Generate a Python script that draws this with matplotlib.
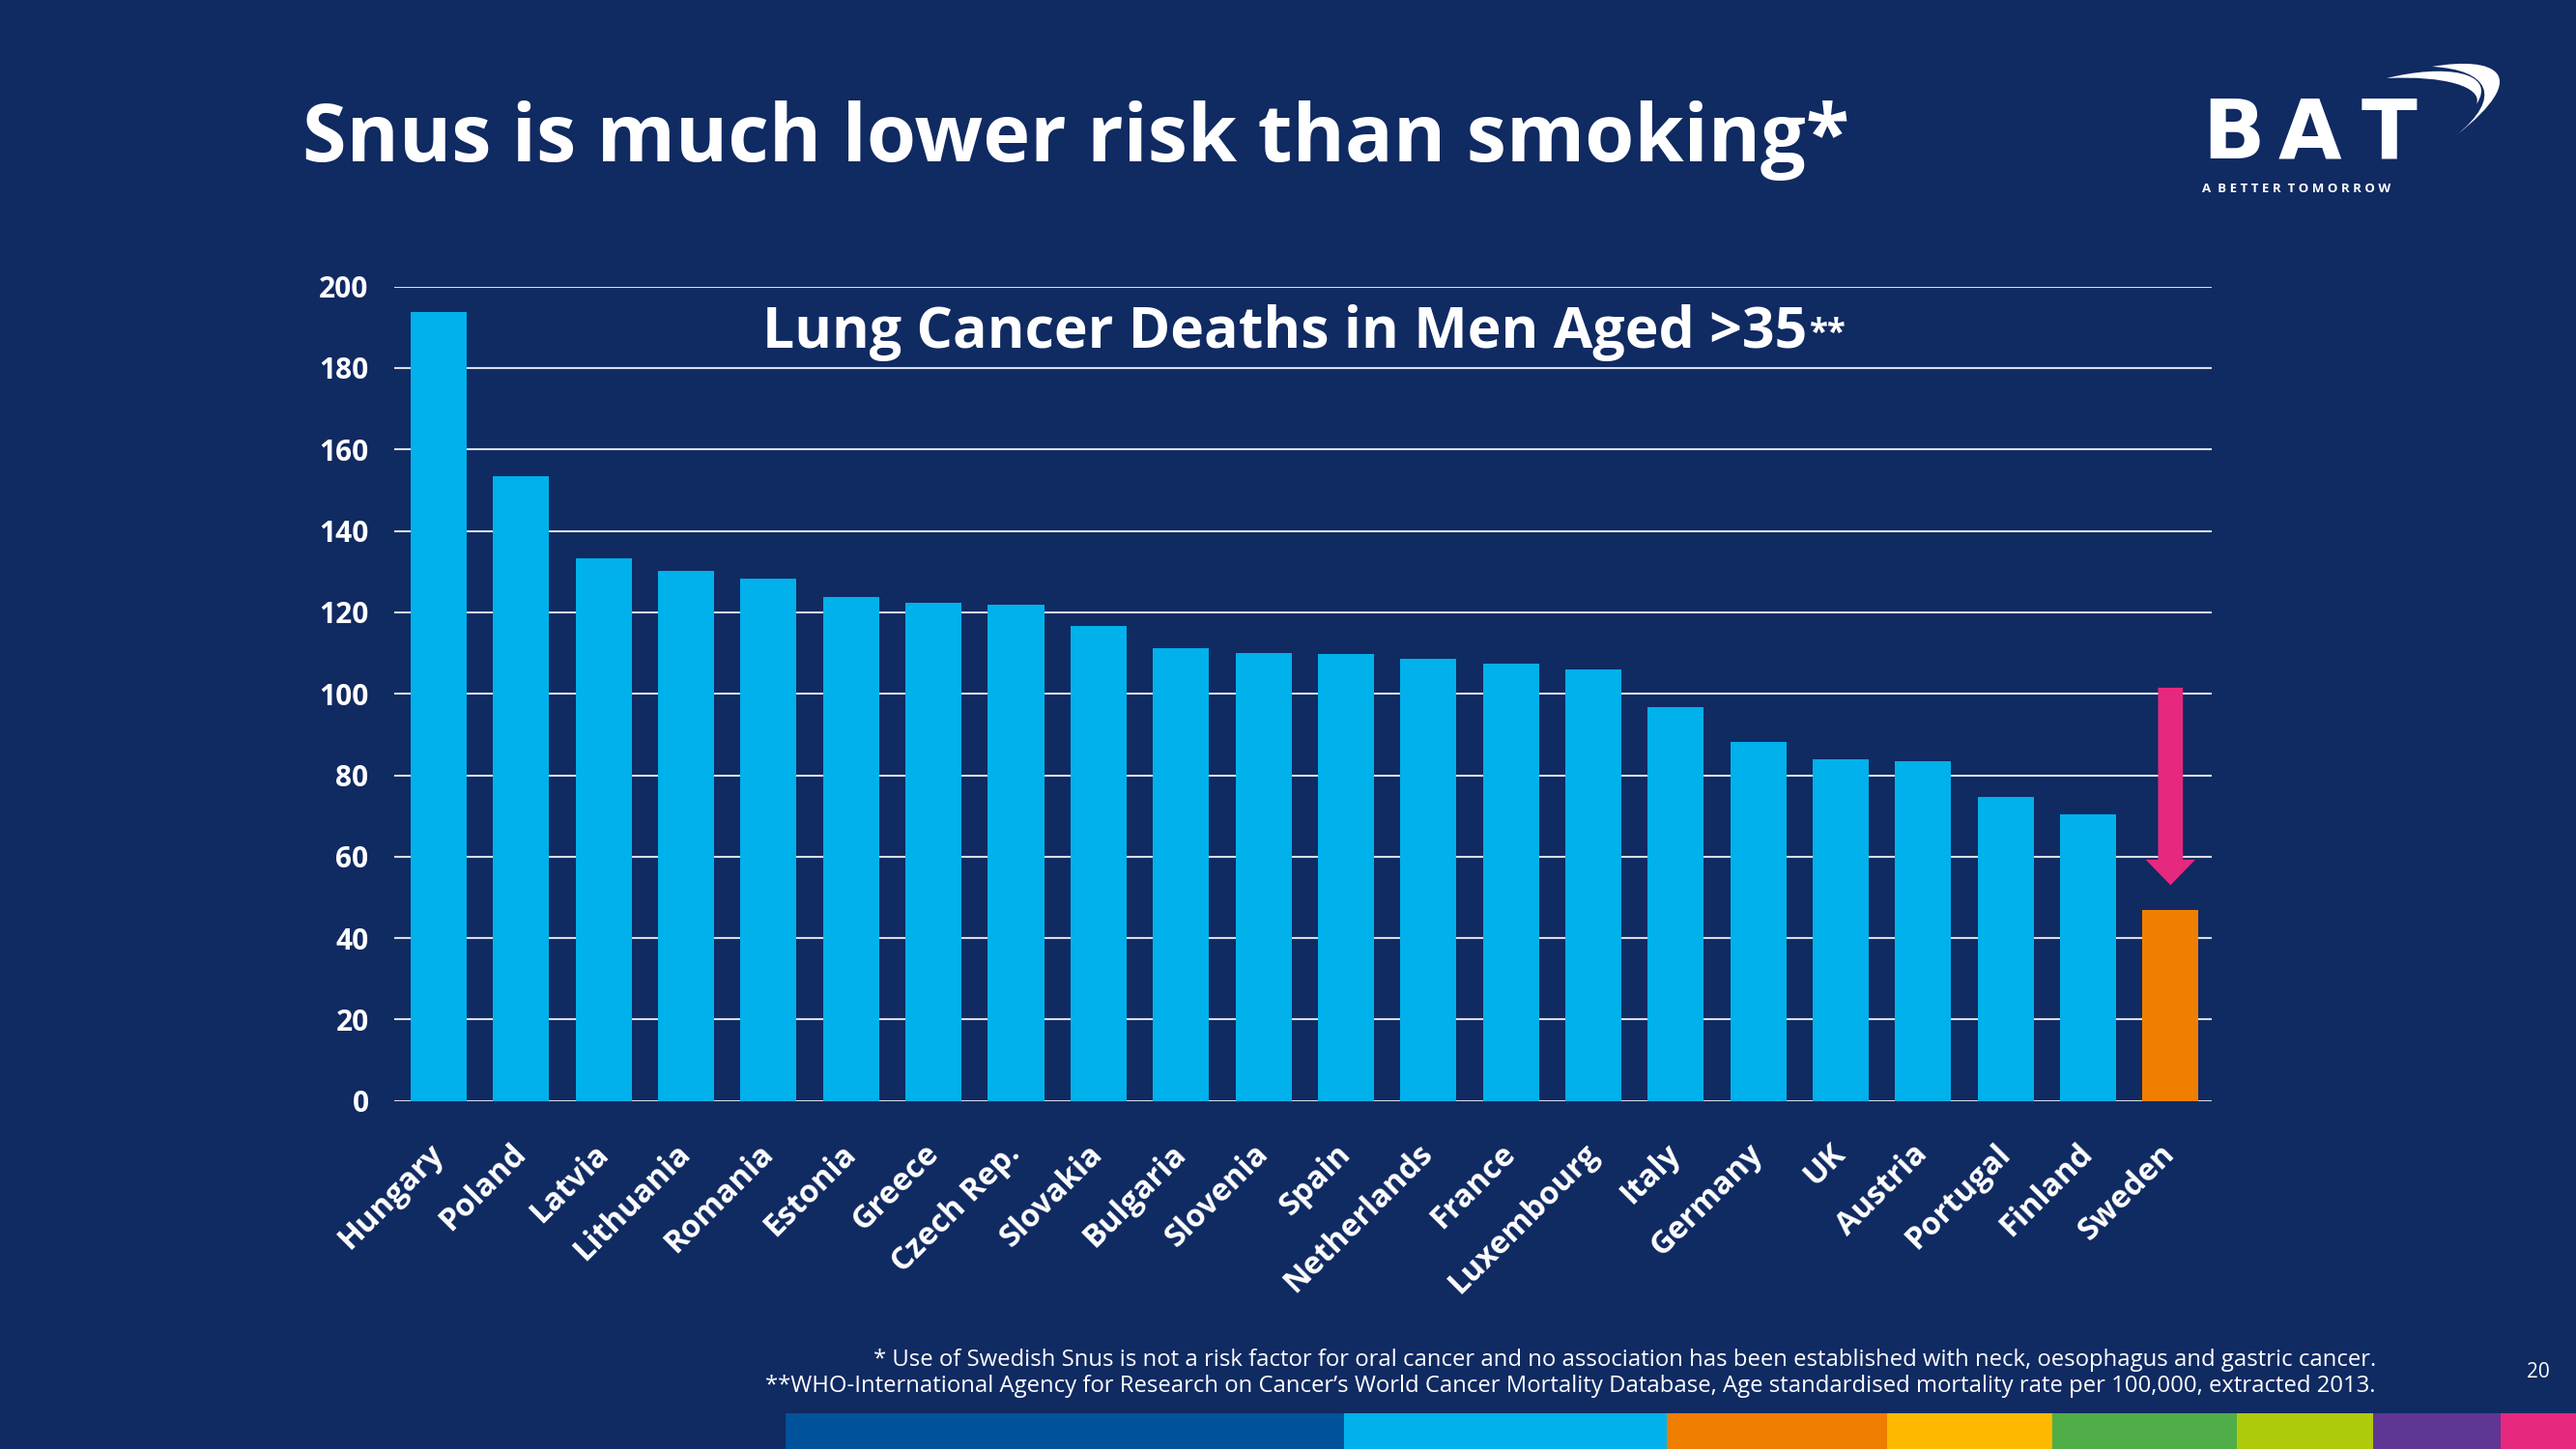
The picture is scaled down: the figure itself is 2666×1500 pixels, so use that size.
import matplotlib.pyplot as plt
from matplotlib.path import Path
from matplotlib.patches import PathPatch, Rectangle

countries = ["Hungary", "Poland", "Latvia", "Lithuania", "Romania", "Estonia",
             "Greece", "Czech Rep.", "Slovakia", "Bulgaria", "Slovenia", "Spain",
             "Netherlands", "France", "Luxembourg", "Italy", "Germany", "UK",
             "Austria", "Portugal", "Finland", "Sweden"]
deaths = [193.7, 153.5, 133.3, 130.2, 128.3, 123.8, 122.3, 121.8, 116.6, 111.2,
          109.9, 109.8, 108.5, 107.4, 106.0, 96.8, 88.1, 83.8, 83.4, 74.6, 70.3, 46.8]
yticks = [0, 20, 40, 60, 80, 100, 120, 140, 160, 180, 200]
arrow_from = 101.5
arrow_to = 53

BG = "#102a62"
CYAN = "#00b1eb"
ORANGE = "#f07f00"
PINK = "#e6287f"
FONT = "Open Sans"

W, H = 2666, 1500
fig = plt.figure(figsize=(W / 100, H / 100), dpi=100, facecolor=BG)


def fx(px):
    return px / W


def fy(py):
    return 1 - py / H


ax = fig.add_axes([fx(408), fy(1139.7), fx(2289) - fx(408), fy(296.7) - fy(1139.7)])
ax.set_facecolor(BG)

colors = [CYAN] * (len(countries) - 1) + [ORANGE]
x = list(range(len(countries)))
ax.bar(x, deaths, width=0.68, color=colors, zorder=3)

ax.set_ylim(0, 200)
ax.set_xlim(-0.54, len(countries) - 0.5)
ax.set_yticks(yticks)
ax.yaxis.grid(True, color="#d9dde6", linewidth=1.5, zorder=0)
ax.set_axisbelow(True)
for s in ax.spines.values():
    s.set_visible(False)

ax.tick_params(axis="y", length=0, pad=19, labelsize=21.5, labelcolor="white")
for lab in ax.get_yticklabels():
    lab.set_fontweight("bold")
    lab.set_family(FONT)

ax.set_xticks(x)
ax.set_xticklabels(countries, rotation=45, ha="right", va="center",
                   rotation_mode="anchor", fontsize=23.5, fontweight="bold",
                   color="white", family=FONT)
ax.tick_params(axis="x", length=0, pad=36)

# pink arrow over Sweden
ax.annotate("", xy=(x[-1], arrow_to), xytext=(x[-1], arrow_from),
            arrowprops=dict(facecolor=PINK, edgecolor="none", width=18.5,
                            headwidth=37, headlength=19, shrink=0),
            zorder=4)

# chart title inside the axes
t = ax.text(0.49, 0.943, "Lung Cancer Deaths in Men Aged >35", transform=ax.transAxes,
            ha="center", va="center", fontsize=42.5, fontweight="bold",
            color="white", family=FONT)
ax.annotate("**", xy=(1, 0.78), xycoords=t, xytext=(2, 0), textcoords="offset points",
            ha="left", va="top", fontsize=25, fontweight="bold", color="white",
            family=FONT)

# slide title
fig.text(fx(313), fy(167), "Snus is much lower risk than smoking*", ha="left",
         va="baseline", fontsize=59.5, fontweight="bold", color="white", family=FONT)

# footnotes
fig.text(fx(2459), fy(1408),
         "* Use of Swedish Snus is not a risk factor for oral cancer and no association "
         "has been established with neck, oesophagus and gastric cancer.",
         ha="right", va="center", fontsize=17.2, color="white", family=FONT)
fig.text(fx(2459), fy(1435),
         "**WHO-International Agency for Research on Cancer\u2019s World Cancer Mortality "
         "Database, Age standardised mortality rate per 100,000, extracted 2013.",
         ha="right", va="center", fontsize=17.2, color="white", family=FONT)
fig.text(fx(2627), fy(1420), "20", ha="center", va="center", fontsize=15,
         color="white", family=FONT)

# colour strip at the bottom
strip_edges = [813, 1391, 1725, 1953, 2124, 2315, 2456, 2588, 2666]
strip_colors = ["#00529b", "#00b1eb", "#ef7d00", "#fcb900", "#4fae47",
                "#afca0b", "#5f3694", "#e6287f"]
for i, c in enumerate(strip_colors):
    fig.add_artist(Rectangle((fx(strip_edges[i]), 0), fx(strip_edges[i + 1] - strip_edges[i]),
                             fy(1463), transform=fig.transFigure, facecolor=c,
                             edgecolor="none"))

# BAT logo
for letter, px in zip("BAT", [2279, 2358, 2444]):
    fig.text(fx(px), fy(164), letter, ha="left", va="baseline", fontsize=61,
             fontweight="bold", color="white", family="DejaVu Sans")
fig.text(fx(2279), fy(199), "A  B E T T E R  T O M O R R O W", ha="left",
         va="baseline", fontsize=9.5, fontweight="bold", color="white", family=FONT)


def crescent(pts):
    verts = [(fx(a), fy(b)) for a, b in pts]
    codes = [Path.MOVETO] + [Path.CURVE4] * 6 + [Path.CLOSEPOLY]
    verts.append(verts[0])
    fig.add_artist(PathPatch(Path(verts, codes), transform=fig.transFigure,
                             facecolor="white", edgecolor="none"))


crescent([(2470, 81), (2530, 66), (2585, 74), (2563, 108),
          (2570, 90), (2530, 78), (2470, 81)])
crescent([(2517, 69), (2580, 58), (2625, 75), (2541, 141),
          (2592, 100), (2575, 72), (2517, 69)])

fig.savefig("out.png", dpi=100, facecolor=BG)
